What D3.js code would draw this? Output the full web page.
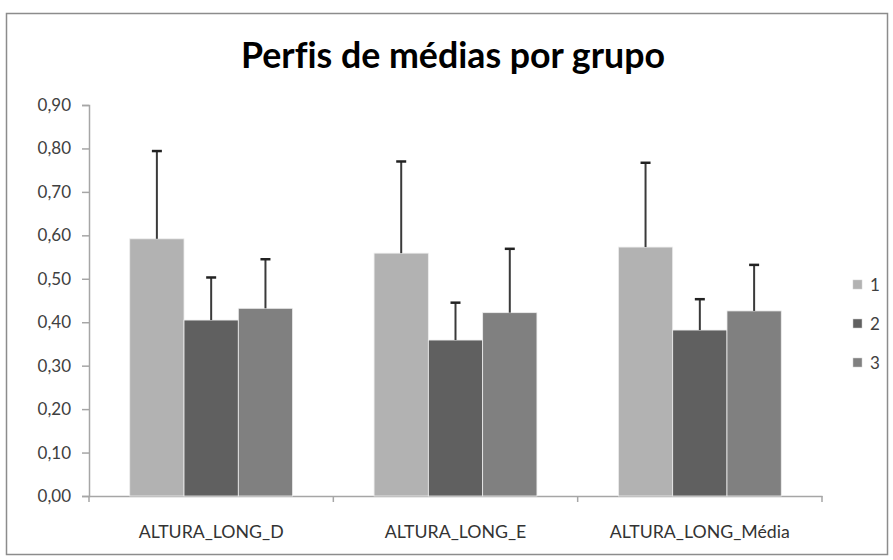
<!DOCTYPE html>
<html>
<head>
<meta charset="utf-8">
<script src="https://cdn.jsdelivr.net/npm/d3@7"></script>
<style>
  body { margin: 0; background: #fff; }
  text { font-family: Lato, "Open Sans", sans-serif; font-variant-ligatures: none; }
</style>
</head>
<body>
<div id="chart"></div>
<script>
// data
let categories = ["ALTURA_LONG_D", "ALTURA_LONG_E", "ALTURA_LONG_Média"];
let groups = ["1", "2", "3"];
let mean1 = [0.592, 0.559, 0.573];
let mean2 = [0.405, 0.359, 0.382];
let mean3 = [0.432, 0.422, 0.426];
let err1 = [0.202, 0.211, 0.194];
let err2 = [0.098, 0.086, 0.071];
let err3 = [0.113, 0.147, 0.106];
let yTicks = [0, 0.1, 0.2, 0.3, 0.4, 0.5, 0.6, 0.7, 0.8, 0.9];
let colorPalette = ["#b2b2b2", "#606060", "#808080"];

var margin = { top: 105, right: 71, bottom: 64, left: 89 };
let width = 893 - margin.left - margin.right;
let height = 560 - margin.top - margin.bottom;

let means = [mean1, mean2, mean3];
let errs = [err1, err2, err3];
let barData = [];
categories.forEach((c, ci) => {
  groups.forEach((g, gi) => {
    barData.push({ cat: c, group: g, value: means[gi][ci], err: errs[gi][ci] });
  });
});

var svg = d3
  .select("#chart")
  .append("svg")
  .attr("width", 893)
  .attr("height", 560)
  .style("background-color", "white");

// shrink or grow a text so it takes the given width
function fitWidth(sel, target) {
  sel.each(function () {
    let fs = parseFloat(d3.select(this).style("font-size"));
    let w = this.getComputedTextLength();
    if (w > 0) d3.select(this).style("font-size", (fs * target) / w + "px");
  });
}

// chart border
svg
  .append("rect")
  .attr("x", 6.5)
  .attr("y", 13.5)
  .attr("width", 881)
  .attr("height", 541)
  .attr("fill", "none")
  .attr("stroke", "#8c8c8c")
  .attr("stroke-width", 1.5);

// title
svg
  .append("text")
  .attr("x", 453)
  .attr("y", 68)
  .attr("text-anchor", "middle")
  .style("font-size", "35px")
  .style("font-weight", "bold")
  .style("fill", "#000")
  .text("Perfis de médias por grupo")
  .call(fitWidth, 424);

let g = svg
  .append("g")
  .attr("transform", "translate(" + margin.left + "," + margin.top + ")");

// scales
let x0 = d3.scaleBand().domain(categories).range([0, width]).paddingInner(0).paddingOuter(0);
let x1 = d3
  .scaleBand()
  .domain(groups)
  .range([x0.bandwidth() * 0.1667, x0.bandwidth() * 0.8333]);
let y = d3.scaleLinear().domain([0, 0.9]).range([height, 0]);
let colorScale = d3.scaleOrdinal().domain(groups).range(colorPalette);

// Y axis
let yAxis = g
  .append("g")
  .attr("class", "yAxis")
  .call(
    d3
      .axisLeft(y)
      .tickValues(yTicks)
      .tickSize(7)
      .tickPadding(11)
      .tickFormat((d) => d3.format(".2f")(d).replace(".", ","))
  );
yAxis.select(".domain").attr("stroke", "#a6a6a6").attr("stroke-width", 1.5);
yAxis.selectAll(".tick line").attr("stroke", "#a6a6a6").attr("stroke-width", 1.5);
yAxis
  .selectAll(".tick text")
  .style("font-size", "17px")
  .style("fill", "#404040")
  .style("font-family", "Lato, sans-serif");

// X axis
let xAxis = g
  .append("g")
  .attr("class", "xAxis")
  .attr("transform", "translate(0," + height + ")")
  .call(d3.axisBottom(x0).tickSize(0));
xAxis.select(".domain").attr("stroke", "#a6a6a6").attr("stroke-width", 1.5);
xAxis
  .selectAll(".tick text")
  .attr("y", 42)
  .attr("dy", 0)
  .style("font-size", "18px")
  .style("fill", "#333")
  .style("font-family", "Lato, sans-serif");
xAxis.select(".tick text").call(function (t) {
  // scale all category labels the same as the first one
  let fs = parseFloat(t.style("font-size"));
  let w = t.node().getComputedTextLength();
  xAxis.selectAll(".tick text").style("font-size", (fs * 145) / w + "px");
});

// category boundary ticks
g.append("g")
  .selectAll("line")
  .data(d3.range(categories.length + 1))
  .join("line")
  .attr("x1", (d) => d * x0.bandwidth())
  .attr("x2", (d) => d * x0.bandwidth())
  .attr("y1", height)
  .attr("y2", height + 6)
  .attr("stroke", "#a6a6a6")
  .attr("stroke-width", 1.5);

// Bars
g.selectAll(".bar")
  .data(barData)
  .join("rect")
  .attr("class", "bar")
  .attr("x", (d) => x0(d.cat) + x1(d.group))
  .attr("y", (d) => y(d.value))
  .attr("width", x1.bandwidth())
  .attr("height", (d) => height - y(d.value))
  .style("fill", (d) => colorScale(d.group))
  .style("stroke", "#eeeeee")
  .style("stroke-width", 0.8);

// error bars
let capHalf = 5;
let eb = g.selectAll(".err").data(barData).join("g").attr("class", "err");
eb.append("line")
  .attr("x1", (d) => x0(d.cat) + x1(d.group) + x1.bandwidth() / 2)
  .attr("x2", (d) => x0(d.cat) + x1(d.group) + x1.bandwidth() / 2)
  .attr("y1", (d) => y(d.value))
  .attr("y2", (d) => y(d.value + d.err))
  .attr("stroke", "#3a3a3a")
  .attr("stroke-width", 2);
eb.append("line")
  .attr("x1", (d) => x0(d.cat) + x1(d.group) + x1.bandwidth() / 2 - capHalf)
  .attr("x2", (d) => x0(d.cat) + x1(d.group) + x1.bandwidth() / 2 + capHalf)
  .attr("y1", (d) => y(d.value + d.err))
  .attr("y2", (d) => y(d.value + d.err))
  .attr("stroke", "#222")
  .attr("stroke-width", 2.5);

// Legend
let legend = svg
  .append("g")
  .selectAll("g")
  .data(groups)
  .join("g")
  .attr("transform", (d, i) => "translate(853," + (280 + i * 39) + ")");
legend
  .append("rect")
  .attr("width", 9)
  .attr("height", 9)
  .style("fill", (d) => colorScale(d))
  .style("stroke", "#d0d0d0")
  .style("stroke-width", 0.5);
legend
  .append("text")
  .attr("x", 17)
  .attr("y", 11)
  .style("font-size", "17px")
  .style("fill", "#404040")
  .text((d) => d);
</script>
</body>
</html>
